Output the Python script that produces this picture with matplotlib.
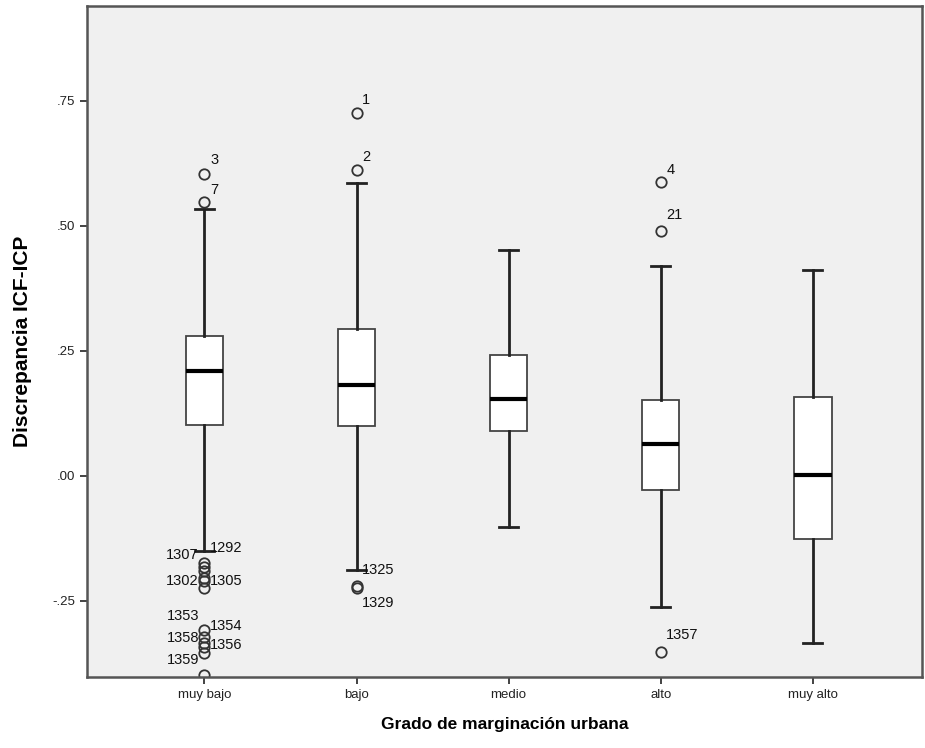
import matplotlib.pyplot as plt
from matplotlib.ticker import FuncFormatter

plt.rcParams['font.family'] = ['Liberation Sans', 'DejaVu Sans']

groups = ["muy bajo", "bajo", "medio", "alto", "muy alto"]
q1 = [0.102, 0.099, 0.089, -0.028, -0.127]
med = [0.209, 0.182, 0.154, 0.064, 0.001]
q3 = [0.279, 0.294, 0.242, 0.151, 0.157]
whis_lo = [-0.151, -0.189, -0.103, -0.263, -0.335]
whis_hi = [0.533, 0.586, 0.451, 0.419, 0.412]
outliers = [
    [0.603, 0.547, -0.175, -0.182, -0.19, -0.205, -0.211, -0.225,
     -0.308, -0.322, -0.335, -0.342, -0.355, -0.398],
    [0.725, 0.612, -0.22, -0.225],
    [],
    [0.587, 0.489, -0.353],
    [],
]

# outlier case labels: (group index, label height, text, side)
case_labels = [
    (0, 0.632, "3", "r"), (0, 0.572, "7", "r"),
    (1, 0.752, "1", "r"), (1, 0.638, "2", "r"),
    (3, 0.612, "4", "r"), (3, 0.522, "21", "r"),
    (0, -0.158, "1307", "l"), (0, -0.144, "1292", "r"),
    (0, -0.211, "1302", "l"), (0, -0.211, "1305", "r"),
    (0, -0.281, "1353", "l"), (0, -0.301, "1354", "r"),
    (0, -0.325, "1358", "l"), (0, -0.338, "1356", "r"),
    (0, -0.368, "1359", "l"),
    (1, -0.188, "1325", "r"), (1, -0.254, "1329", "r"),
    (3, -0.318, "1357", "r"),
]

stats = []
for i, g in enumerate(groups):
    stats.append({"label": g, "q1": q1[i], "med": med[i], "q3": q3[i],
                  "whislo": whis_lo[i], "whishi": whis_hi[i],
                  "fliers": outliers[i]})

fig = plt.figure(figsize=(9.25, 7.48), dpi=100)
ax = fig.add_axes([0.094, 0.095, 0.903, 0.897])
ax.set_facecolor("#f0f0f0")

ax.bxp(stats, positions=range(1, 6), widths=0.247, capwidths=0.125,
       patch_artist=True,
       boxprops=dict(facecolor="white", edgecolor="#444444", linewidth=1.3),
       medianprops=dict(color="black", linewidth=3),
       whiskerprops=dict(color="#222222", linewidth=2),
       capprops=dict(color="#222222", linewidth=2),
       flierprops=dict(marker="o", markerfacecolor="none",
                       markeredgecolor="#333333", markersize=7.5,
                       markeredgewidth=1.3))

for gi, v, txt, side in case_labels:
    if side == "r":
        ax.annotate(txt, (gi + 1, v), xytext=(4, 0), textcoords="offset points",
                    ha="left", va="center", fontsize=10.5, color="#111111")
    else:
        ax.annotate(txt, (gi + 1, v), xytext=(-4, 0), textcoords="offset points",
                    ha="right", va="center", fontsize=10.5, color="#111111")

ax.set_xlim(0.227, 5.72)
ax.set_ylim(-0.402, 0.94)
ax.set_yticks([-0.25, 0.0, 0.25, 0.5, 0.75])
ax.yaxis.set_major_formatter(FuncFormatter(
    lambda v, p: ("-" if v < 0 else "") + ("%.2f" % abs(v)).lstrip("0")))
ax.tick_params(axis="both", labelsize=9.5, colors="#222222", length=5,
               width=1.2)

for s in ax.spines.values():
    s.set_color("#555555")
    s.set_linewidth(1.8)

ax.set_ylabel("Discrepancia ICF-ICP", fontsize=15, fontweight="bold")
ax.yaxis.set_label_coords(-0.066, 0.5)
ax.set_xlabel("Grado de marginación urbana", fontsize=12.5,
              fontweight="bold", labelpad=12)

fig.savefig("out.png", dpi=100)
